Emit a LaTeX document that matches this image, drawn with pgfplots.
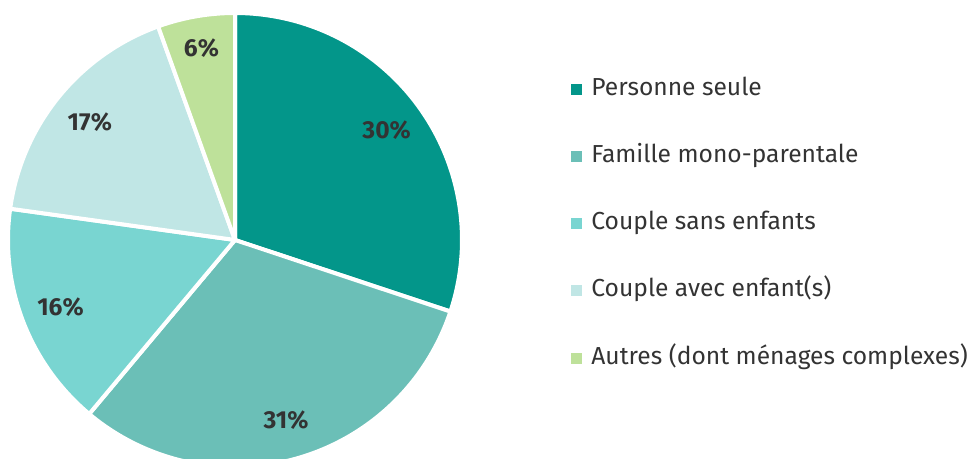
\documentclass[border=0pt]{standalone}
\usepackage{pgfplots}
\pgfplotsset{compat=1.18}
\usepackage{fontspec}
\setmainfont{Fira Sans}
\definecolor{cA}{HTML}{03968A}
\definecolor{cB}{HTML}{6BBFB7}
\definecolor{cC}{HTML}{79D5D1}
\definecolor{cD}{HTML}{C0E6E5}
\definecolor{cE}{HTML}{BEE19A}
\definecolor{txt}{HTML}{333333}
\begin{document}
\begin{tikzpicture}
% shares (per cent), clockwise from the top
\def\vA{30.1}\def\vB{31.0}\def\vC{16.1}\def\vD{17.3}\def\vE{5.5}
\def\cx{235}\def\cy{219}\def\R{227}\def\rl{187}
\pgfmathsetmacro\eA{90}
\pgfmathsetmacro\eB{\eA-3.6*\vA}
\pgfmathsetmacro\eC{\eB-3.6*\vB}
\pgfmathsetmacro\eD{\eC-3.6*\vC}
\pgfmathsetmacro\eE{\eD-3.6*\vD}
\pgfmathsetmacro\eF{\eE-3.6*\vE}
\pgfmathsetmacro\mA{(\eA+\eB)/2}
\pgfmathsetmacro\mB{(\eB+\eC)/2}
\pgfmathsetmacro\mC{(\eC+\eD)/2}
\pgfmathsetmacro\mD{(\eD+\eE)/2}
\pgfmathsetmacro\mE{(\eE+\eF)/2}
\pgfmathsetmacro\xA{\cx+\rl*cos(\mA)}\pgfmathsetmacro\yA{\cy+\rl*sin(\mA)}
\pgfmathsetmacro\xB{\cx+\rl*cos(\mB)}\pgfmathsetmacro\yB{\cy+\rl*sin(\mB)}
\pgfmathsetmacro\xC{\cx+\rl*cos(\mC)}\pgfmathsetmacro\yC{\cy+\rl*sin(\mC)}
\pgfmathsetmacro\xD{\cx+\rl*cos(\mD)}\pgfmathsetmacro\yD{\cy+\rl*sin(\mD)}
\pgfmathsetmacro\xE{\cx+(\rl+8)*cos(\mE)}\pgfmathsetmacro\yE{\cy+(\rl+8)*sin(\mE)}
\begin{axis}[
  scale only axis, width=485pt, height=229.5pt,
  xmin=0, xmax=970, ymin=0, ymax=459,
  hide axis, clip=true,
  font=\fontsize{12.3}{14}\selectfont,
  legend image code/.code={\fill[#1,draw=none] (0pt,-2.75pt) rectangle (5.5pt,2.75pt);},
  legend style={draw=none, fill=none, inner sep=0pt, at={(axis cs:571,382)}, anchor=north west,
    nodes={inner sep=0pt, text height=9pt, text depth=3pt}, row sep=21.6pt, column sep=4.5pt,
    font=\fontsize{12.3}{14}\selectfont, text=txt},
  legend cell align=left,
  every axis plot/.append style={draw=white, line width=2pt, line join=round, samples=90, variable=\t},
]
\addplot[fill=cA, domain=\eB:\eA] ({\cx+\R*cos(\t)},{\cy+\R*sin(\t)}) -- (axis cs:\cx,\cy) -- cycle;
\addlegendentry{Personne seule}
\addplot[fill=cB, domain=\eC:\eB] ({\cx+\R*cos(\t)},{\cy+\R*sin(\t)}) -- (axis cs:\cx,\cy) -- cycle;
\addlegendentry{Famille mono-parentale}
\addplot[fill=cC, domain=\eD:\eC] ({\cx+\R*cos(\t)},{\cy+\R*sin(\t)}) -- (axis cs:\cx,\cy) -- cycle;
\addlegendentry{Couple sans enfants}
\addplot[fill=cD, domain=\eE:\eD] ({\cx+\R*cos(\t)},{\cy+\R*sin(\t)}) -- (axis cs:\cx,\cy) -- cycle;
\addlegendentry{Couple avec enfant(s)}
\addplot[fill=cE, domain=\eF:\eE] ({\cx+\R*cos(\t)},{\cy+\R*sin(\t)}) -- (axis cs:\cx,\cy) -- cycle;
\addlegendentry{Autres (dont ménages complexes)}
\node[text=txt, font=\fontsize{12.3}{14}\selectfont\bfseries] at (axis cs:\xA,\yA) {30\%};
\node[text=txt, font=\fontsize{12.3}{14}\selectfont\bfseries] at (axis cs:\xB,\yB) {31\%};
\node[text=txt, font=\fontsize{12.3}{14}\selectfont\bfseries] at (axis cs:\xC,\yC) {16\%};
\node[text=txt, font=\fontsize{12.3}{14}\selectfont\bfseries] at (axis cs:\xD,\yD) {17\%};
\node[text=txt, font=\fontsize{12.3}{14}\selectfont\bfseries] at (axis cs:\xE,\yE) {6\%};
\end{axis}
\pgfresetboundingbox
\useasboundingbox (current axis.south west) rectangle (current axis.north east);
\end{tikzpicture}
\end{document}
